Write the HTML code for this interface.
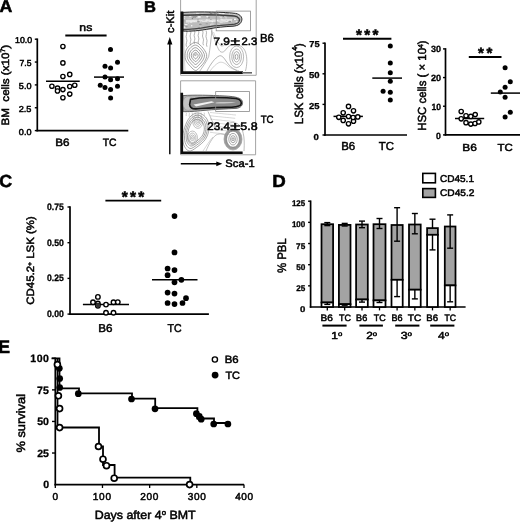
<!DOCTYPE html>
<html><head><meta charset="utf-8"><style>
html,body{margin:0;padding:0;background:#fff;width:520px;height:522px;overflow:hidden}
svg{display:block;filter:blur(0.4px)}
text{font-family:"Liberation Sans", sans-serif;fill:#000;text-rendering:geometricPrecision}
text.r{stroke:#000;stroke-width:0.5px}
text.b{stroke:#000;stroke-width:0.3px}
text.p{stroke:#000;stroke-width:0.55px}
</style></head><body>
<svg width="520" height="522" viewBox="0 0 520 522">
<defs><filter id="bl" x="-5%" y="-5%" width="110%" height="110%"><feGaussianBlur stdDeviation="0.35"/></filter></defs>
<text x="-0.48" y="12.35" font-size="17.01" font-weight="bold" class="p" textLength="12.8" lengthAdjust="spacingAndGlyphs">A</text>
<line x1="37.3" y1="38.45" x2="37.3" y2="131.35" stroke="#000" stroke-width="1.7"/>
<line x1="34.8" y1="39.2" x2="37.3" y2="39.2" stroke="#000" stroke-width="1.4"/>
<line x1="34.8" y1="62.05" x2="37.3" y2="62.05" stroke="#000" stroke-width="1.4"/>
<line x1="34.8" y1="84.9" x2="37.3" y2="84.9" stroke="#000" stroke-width="1.4"/>
<line x1="34.8" y1="107.75" x2="37.3" y2="107.75" stroke="#000" stroke-width="1.4"/>
<line x1="34.8" y1="130.6" x2="37.3" y2="130.6" stroke="#000" stroke-width="1.4"/>
<line x1="36.449999999999996" y1="130.6" x2="128.3" y2="130.6" stroke="#000" stroke-width="1.7"/>
<text x="15.0" y="43.35" font-size="8.5" class="r" textLength="17.12" lengthAdjust="spacingAndGlyphs">10.0</text>
<text x="19.47" y="65.8" font-size="8.71" class="r" textLength="11.98" lengthAdjust="spacingAndGlyphs">7.5</text>
<text x="18.84" y="89.2" font-size="8.57" class="r" textLength="12.63" lengthAdjust="spacingAndGlyphs">5.0</text>
<text x="18.74" y="111.8" font-size="8.57" class="r" textLength="12.73" lengthAdjust="spacingAndGlyphs">2.5</text>
<text x="18.84" y="134.5" font-size="8.57" class="r" textLength="12.63" lengthAdjust="spacingAndGlyphs">0.0</text>
<text x="79.35" y="31.45" font-size="10.84" class="r" textLength="12.9" lengthAdjust="spacingAndGlyphs">ns</text>
<text x="55.22" y="145.75" font-size="10.61" class="r" textLength="14.23" lengthAdjust="spacingAndGlyphs">B6</text>
<text x="102.84" y="145.75" font-size="10.61" class="r" textLength="13.75" lengthAdjust="spacingAndGlyphs">TC</text>
<text transform="translate(8.85 125.58) rotate(-90)" font-size="10.68" class="r" textLength="80.8" lengthAdjust="spacingAndGlyphs">BM&#160; cells (x10<tspan font-size="0.6em" dy="-0.65em">7</tspan><tspan dy="0.39em">)</tspan></text>
<line x1="65.3" y1="35.4" x2="106.6" y2="35.4" stroke="#000" stroke-width="2.0"/>
<line x1="46" y1="81.25" x2="79.75" y2="81.25" stroke="#000" stroke-width="1.5"/>
<circle cx="62.9" cy="46.5" r="2.15" fill="#fff" stroke="#000" stroke-width="1.35"/>
<circle cx="62.9" cy="62.9" r="2.15" fill="#fff" stroke="#000" stroke-width="1.35"/>
<circle cx="62.9" cy="76.5" r="2.15" fill="#fff" stroke="#000" stroke-width="1.35"/>
<circle cx="69.75" cy="74.4" r="2.15" fill="#fff" stroke="#000" stroke-width="1.35"/>
<circle cx="51.9" cy="86.25" r="2.15" fill="#fff" stroke="#000" stroke-width="1.35"/>
<circle cx="57.5" cy="88.1" r="2.15" fill="#fff" stroke="#000" stroke-width="1.35"/>
<circle cx="57.5" cy="91" r="2.15" fill="#fff" stroke="#000" stroke-width="1.35"/>
<circle cx="62.9" cy="89.6" r="2.15" fill="#fff" stroke="#000" stroke-width="1.35"/>
<circle cx="69.75" cy="86.5" r="2.15" fill="#fff" stroke="#000" stroke-width="1.35"/>
<circle cx="74.75" cy="85.25" r="2.15" fill="#fff" stroke="#000" stroke-width="1.35"/>
<circle cx="69.75" cy="94.1" r="2.15" fill="#fff" stroke="#000" stroke-width="1.35"/>
<circle cx="62.9" cy="97.75" r="2.15" fill="#fff" stroke="#000" stroke-width="1.35"/>
<circle cx="110.5" cy="49.4" r="2.5" fill="#000"/>
<circle cx="117.5" cy="62.25" r="2.5" fill="#000"/>
<circle cx="105" cy="66.25" r="2.5" fill="#000"/>
<circle cx="110.6" cy="68.1" r="2.5" fill="#000"/>
<circle cx="105" cy="77.1" r="2.5" fill="#000"/>
<circle cx="110.6" cy="79.75" r="2.5" fill="#000"/>
<circle cx="117.5" cy="78.75" r="2.5" fill="#000"/>
<circle cx="100.25" cy="85.25" r="2.5" fill="#000"/>
<circle cx="105" cy="87.5" r="2.5" fill="#000"/>
<circle cx="110.6" cy="89.6" r="2.5" fill="#000"/>
<circle cx="117.5" cy="86.25" r="2.5" fill="#000"/>
<circle cx="110.6" cy="98.1" r="2.5" fill="#000"/>
<line x1="94" y1="77.1" x2="124" y2="77.1" stroke="#000" stroke-width="1.5"/>
<line x1="325.0" y1="42.45" x2="325.0" y2="135.75" stroke="#000" stroke-width="1.7"/>
<line x1="322.5" y1="43.2" x2="325.0" y2="43.2" stroke="#000" stroke-width="1.4"/>
<line x1="322.5" y1="73.8" x2="325.0" y2="73.8" stroke="#000" stroke-width="1.4"/>
<line x1="322.5" y1="104.4" x2="325.0" y2="104.4" stroke="#000" stroke-width="1.4"/>
<line x1="322.5" y1="135.0" x2="325.0" y2="135.0" stroke="#000" stroke-width="1.4"/>
<line x1="324.15" y1="135.0" x2="407.0" y2="135.0" stroke="#000" stroke-width="1.7"/>
<text x="309.23" y="47.4" font-size="8.57" font-weight="bold" class="b" textLength="10.37" lengthAdjust="spacingAndGlyphs">75</text>
<text x="308.91" y="78.4" font-size="8.57" font-weight="bold" class="b" textLength="10.59" lengthAdjust="spacingAndGlyphs">50</text>
<text x="309.12" y="109.3" font-size="8.57" font-weight="bold" class="b" textLength="10.49" lengthAdjust="spacingAndGlyphs">25</text>
<text x="313.42" y="140.2" font-size="8.57" font-weight="bold" class="b" textLength="5.33" lengthAdjust="spacingAndGlyphs">0</text>
<text x="341.23" y="150.25" font-size="11.63" class="r" textLength="14.01" lengthAdjust="spacingAndGlyphs">B6</text>
<text x="378.82" y="150.25" font-size="11.63" class="r" textLength="15.22" lengthAdjust="spacingAndGlyphs">TC</text>
<text transform="translate(302.55 124.27) rotate(-90)" font-size="11.92" class="r" textLength="81.19" lengthAdjust="spacingAndGlyphs">LSK cells (x10<tspan font-size="0.6em" dy="-0.72em">4</tspan><tspan dy="0.432em">)</tspan></text>
<text x="355.94" y="40.36" font-size="15.2" font-weight="bold" class="p">*</text>
<text x="364.24" y="40.36" font-size="15.2" font-weight="bold" class="p">*</text>
<text x="372.44" y="40.36" font-size="15.2" font-weight="bold" class="p">*</text>
<line x1="343.0" y1="38.8" x2="391.4" y2="38.8" stroke="#000" stroke-width="2.0"/>
<line x1="333.5" y1="116.4" x2="362.9" y2="116.4" stroke="#000" stroke-width="1.5"/>
<circle cx="348.5" cy="106.4" r="2.15" fill="#fff" stroke="#000" stroke-width="1.35"/>
<circle cx="353.5" cy="110.8" r="2.15" fill="#fff" stroke="#000" stroke-width="1.35"/>
<circle cx="343.2" cy="112.8" r="2.15" fill="#fff" stroke="#000" stroke-width="1.35"/>
<circle cx="338.8" cy="117.3" r="2.15" fill="#fff" stroke="#000" stroke-width="1.35"/>
<circle cx="343.2" cy="120.4" r="2.15" fill="#fff" stroke="#000" stroke-width="1.35"/>
<circle cx="348.5" cy="123.8" r="2.15" fill="#fff" stroke="#000" stroke-width="1.35"/>
<circle cx="353.5" cy="121.2" r="2.15" fill="#fff" stroke="#000" stroke-width="1.35"/>
<circle cx="348.5" cy="116.5" r="2.15" fill="#fff" stroke="#000" stroke-width="1.35"/>
<circle cx="353.1" cy="117.5" r="2.15" fill="#fff" stroke="#000" stroke-width="1.35"/>
<circle cx="357.8" cy="116.9" r="2.15" fill="#fff" stroke="#000" stroke-width="1.35"/>
<circle cx="390.3" cy="46.1" r="2.5" fill="#000"/>
<circle cx="390.3" cy="63" r="2.5" fill="#000"/>
<circle cx="390.3" cy="72.8" r="2.5" fill="#000"/>
<circle cx="390.3" cy="81.2" r="2.5" fill="#000"/>
<circle cx="390.3" cy="92.2" r="2.5" fill="#000"/>
<circle cx="390.3" cy="100.1" r="2.5" fill="#000"/>
<circle cx="383.1" cy="91.2" r="2.5" fill="#000"/>
<line x1="372.3" y1="78.1" x2="402" y2="78.1" stroke="#000" stroke-width="1.5"/>
<line x1="445.5" y1="48.15" x2="445.5" y2="135.65" stroke="#000" stroke-width="1.7"/>
<line x1="443.0" y1="48.9" x2="445.5" y2="48.9" stroke="#000" stroke-width="1.4"/>
<line x1="443.0" y1="77.56666666666666" x2="445.5" y2="77.56666666666666" stroke="#000" stroke-width="1.4"/>
<line x1="443.0" y1="106.23333333333333" x2="445.5" y2="106.23333333333333" stroke="#000" stroke-width="1.4"/>
<line x1="443.0" y1="134.9" x2="445.5" y2="134.9" stroke="#000" stroke-width="1.4"/>
<line x1="444.65" y1="134.9" x2="520" y2="134.9" stroke="#000" stroke-width="1.7"/>
<text x="431.02" y="52.4" font-size="9.0" font-weight="bold" class="b" textLength="10.06" lengthAdjust="spacingAndGlyphs">30</text>
<text x="430.93" y="81.1" font-size="9.0" font-weight="bold" class="b" textLength="10.16" lengthAdjust="spacingAndGlyphs">20</text>
<text x="431.48" y="109.8" font-size="9.0" font-weight="bold" class="b" textLength="9.58" lengthAdjust="spacingAndGlyphs">10</text>
<text x="436.05" y="138.5" font-size="9.0" font-weight="bold" class="b" textLength="4.87" lengthAdjust="spacingAndGlyphs">0</text>
<text x="462.3" y="150.65" font-size="10.32" class="r" textLength="14.57" lengthAdjust="spacingAndGlyphs">B6</text>
<text x="497.62" y="150.65" font-size="10.32" class="r" textLength="15.22" lengthAdjust="spacingAndGlyphs">TC</text>
<text transform="translate(426.4 130.76) rotate(-90)" font-size="11.7" class="r" textLength="90.39" lengthAdjust="spacingAndGlyphs">HSC cells ( &#215; 10<tspan font-size="0.6em" dy="-0.42em">4</tspan><tspan dy="0.252em">)</tspan></text>
<text x="478.02" y="58.22" font-size="15" font-weight="bold" class="p">*</text>
<text x="486.43" y="58.22" font-size="15" font-weight="bold" class="p">*</text>
<line x1="468.8" y1="57.0" x2="501.5" y2="57.0" stroke="#000" stroke-width="2.0"/>
<line x1="455" y1="118.5" x2="484.2" y2="118.5" stroke="#000" stroke-width="1.5"/>
<circle cx="461.2" cy="111.5" r="2.15" fill="#fff" stroke="#000" stroke-width="1.35"/>
<circle cx="466" cy="115.8" r="2.15" fill="#fff" stroke="#000" stroke-width="1.35"/>
<circle cx="470.8" cy="116.4" r="2.15" fill="#fff" stroke="#000" stroke-width="1.35"/>
<circle cx="475.2" cy="114.6" r="2.15" fill="#fff" stroke="#000" stroke-width="1.35"/>
<circle cx="461.2" cy="118.8" r="2.15" fill="#fff" stroke="#000" stroke-width="1.35"/>
<circle cx="466" cy="122.7" r="2.15" fill="#fff" stroke="#000" stroke-width="1.35"/>
<circle cx="470.8" cy="124.1" r="2.15" fill="#fff" stroke="#000" stroke-width="1.35"/>
<circle cx="475" cy="123.5" r="2.15" fill="#fff" stroke="#000" stroke-width="1.35"/>
<circle cx="478.8" cy="121.9" r="2.15" fill="#fff" stroke="#000" stroke-width="1.35"/>
<circle cx="505.1" cy="67.7" r="2.5" fill="#000"/>
<circle cx="510.3" cy="81.8" r="2.5" fill="#000"/>
<circle cx="505.1" cy="87.2" r="2.5" fill="#000"/>
<circle cx="500.3" cy="92" r="2.5" fill="#000"/>
<circle cx="505.1" cy="97.2" r="2.5" fill="#000"/>
<circle cx="510.3" cy="112.3" r="2.5" fill="#000"/>
<circle cx="505.1" cy="116.9" r="2.5" fill="#000"/>
<line x1="490.8" y1="93.1" x2="520" y2="93.1" stroke="#000" stroke-width="1.5"/>
<text x="143.99" y="12.35" font-size="15.7" font-weight="bold" class="p" textLength="11.96" lengthAdjust="spacingAndGlyphs">B</text>
<line x1="169.8" y1="44" x2="169.8" y2="154.2" stroke="#000" stroke-width="1.4"/>
<path d="M169.8,37.1 L172.4,44.6 L167.2,44.6 Z" fill="#000"/>
<text transform="translate(173.65 32.9) rotate(-90)" font-size="10.9" class="r" textLength="22.26" lengthAdjust="spacingAndGlyphs">c-Kit</text>
<line x1="180.8" y1="163.8" x2="217" y2="163.8" stroke="#000" stroke-width="1.4"/>
<path d="M222.3,163.8 L216.3,161.4 L216.3,166.2 Z" fill="#000"/>
<text x="225.39" y="167.35" font-size="10.76" class="r" textLength="29.25" lengthAdjust="spacingAndGlyphs">Sca-1</text>
<path d="M180.6,0 V75.3 H256.2 V0" fill="none" stroke="#999" stroke-width="0.9"/>
<path d="M180.6,80.8 H255.6 V154.8 H180.6 Z" fill="none" stroke="#999" stroke-width="0.9"/>
<g filter="url(#bl)">
<path d="M186.50,30.50 Q187.30,32.53 186.50,34.56 Q185.70,36.59 186.50,38.62 Q187.30,40.66 186.50,42.69 Q185.70,44.72 186.50,46.75 " fill="none" stroke="#8a8a8a" stroke-width="0.65"/>
<path d="M190.50,30.50 Q191.30,32.34 190.50,34.19 Q189.70,36.03 190.50,37.88 Q191.30,39.72 190.50,41.56 Q189.70,43.41 190.50,45.25 " fill="none" stroke="#8a8a8a" stroke-width="0.65"/>
<path d="M194.50,30.50 Q195.30,32.16 194.50,33.81 Q193.70,35.47 194.50,37.12 Q195.30,38.78 194.50,40.44 Q193.70,42.09 194.50,43.75 " fill="none" stroke="#8a8a8a" stroke-width="0.65"/>
<path d="M198.50,30.50 Q199.30,32.16 198.50,33.81 Q197.70,35.47 198.50,37.12 Q199.30,38.78 198.50,40.44 Q197.70,42.09 198.50,43.75 " fill="none" stroke="#8a8a8a" stroke-width="0.65"/>
<path d="M202.50,30.50 Q203.43,32.34 202.75,34.19 Q202.07,36.03 203.00,37.88 Q203.93,39.72 203.25,41.56 Q202.57,43.41 203.50,45.25 " fill="none" stroke="#8a8a8a" stroke-width="0.65"/>
<path d="M206.00,30.50 Q206.93,32.53 206.25,34.56 Q205.57,36.59 206.50,38.62 Q207.43,40.66 206.75,42.69 Q206.07,44.72 207.00,46.75 " fill="none" stroke="#8a8a8a" stroke-width="0.65"/>
<path d="M195.60,42.50 C197.60,42.67 199.77,44.50 201.60,46.50 C203.43,48.50 206.10,52.00 206.60,54.50 C207.10,57.00 205.77,59.33 204.60,61.50 C203.43,63.67 201.10,66.00 199.60,67.50 C198.10,69.00 197.10,70.67 195.60,70.50 C194.10,70.33 192.27,68.33 190.60,66.50 C188.93,64.67 186.43,62.00 185.60,59.50 C184.77,57.00 184.93,53.83 185.60,51.50 C186.27,49.17 187.93,47.00 189.60,45.50 C191.27,44.00 193.60,42.33 195.60,42.50 Z" fill="none" stroke="#7c7c7c" stroke-width="0.7"/>
<path d="M195.60,45.10 C197.20,45.23 198.93,46.70 200.40,48.30 C201.87,49.90 204.00,52.70 204.40,54.70 C204.80,56.70 203.73,58.57 202.80,60.30 C201.87,62.03 200.00,63.90 198.80,65.10 C197.60,66.30 196.80,67.63 195.60,67.50 C194.40,67.37 192.93,65.77 191.60,64.30 C190.27,62.83 188.27,60.70 187.60,58.70 C186.93,56.70 187.07,54.17 187.60,52.30 C188.13,50.43 189.47,48.70 190.80,47.50 C192.13,46.30 194.00,44.97 195.60,45.10 Z" fill="none" stroke="#7c7c7c" stroke-width="0.7"/>
<path d="M195.60,47.70 C196.80,47.80 198.10,48.90 199.20,50.10 C200.30,51.30 201.90,53.40 202.20,54.90 C202.50,56.40 201.70,57.80 201.00,59.10 C200.30,60.40 198.90,61.80 198.00,62.70 C197.10,63.60 196.50,64.60 195.60,64.50 C194.70,64.40 193.60,63.20 192.60,62.10 C191.60,61.00 190.10,59.40 189.60,57.90 C189.10,56.40 189.20,54.50 189.60,53.10 C190.00,51.70 191.00,50.40 192.00,49.50 C193.00,48.60 194.40,47.60 195.60,47.70 Z" fill="none" stroke="#707070" stroke-width="0.7"/>
<path d="M195.60,50.17 C196.42,50.24 197.31,50.99 198.06,51.81 C198.81,52.63 199.90,54.07 200.11,55.09 C200.31,56.12 199.77,57.07 199.29,57.96 C198.81,58.85 197.85,59.80 197.24,60.42 C196.62,61.04 196.22,61.72 195.60,61.65 C194.98,61.58 194.23,60.76 193.55,60.01 C192.87,59.26 191.84,58.16 191.50,57.14 C191.16,56.12 191.23,54.82 191.50,53.86 C191.77,52.90 192.46,52.02 193.14,51.40 C193.82,50.78 194.78,50.10 195.60,50.17 Z" fill="none" stroke="#707070" stroke-width="0.7"/>
<path d="M195.60,52.51 C196.06,52.55 196.56,52.97 196.98,53.43 C197.40,53.89 198.01,54.70 198.13,55.27 C198.25,55.85 197.94,56.38 197.67,56.88 C197.40,57.38 196.86,57.91 196.52,58.26 C196.17,58.60 195.94,58.99 195.60,58.95 C195.25,58.91 194.83,58.45 194.45,58.03 C194.07,57.61 193.49,57.00 193.30,56.42 C193.11,55.84 193.15,55.12 193.30,54.58 C193.45,54.04 193.84,53.55 194.22,53.20 C194.60,52.86 195.14,52.47 195.60,52.51 Z" fill="none" stroke="#707070" stroke-width="0.7"/>
<circle cx="195.4" cy="54.8" r="0.9" fill="none" stroke="#777" stroke-width="0.6"/>
<path d="M184.5,29.6 C195,29 205,28.6 212,29.2 C211,40 210,49 208.7,56.6 C206,62.5 202.5,67 199.5,71.5" fill="none" stroke="#8a8a8a" stroke-width="0.6"/>
<path d="M183.5,31.5 C184,45 184.5,60 185,71" fill="none" stroke="#aaa" stroke-width="0.5"/>
<path d="M211.5,30.5 C214,38 216.5,46 219.3,50.5 C221,52.8 223.5,52.8 225.5,50 C227.5,47 230,45 233.5,44.5 C238.5,44 243.5,46.5 245.5,52 C247.5,58 247,65 245.5,71" fill="none" stroke="#8e8e8e" stroke-width="0.6"/>
<path d="M207,71 C210,65 215,57.5 219.5,55.8 C222,55.2 224,58 226,61 C229,65.5 232,68.5 237,70.6" fill="none" stroke="#858585" stroke-width="0.6"/>
<path d="M213.5,32 C216,39 218.5,44.5 221,46 C223.5,46.8 226.5,43.5 230,41.5" fill="none" stroke="#b0b0b0" stroke-width="0.5"/>
<path d="M210,71 C213,67 216,64 219,62.5 C222,61.5 225,63 228,66 C231,68.6 235,70 239,70.8" fill="none" stroke="#a5a5a5" stroke-width="0.5"/>
<ellipse cx="236.6" cy="56.8" rx="7.0" ry="10.8" fill="none" stroke="#8a8a8a" stroke-width="0.6"/>
<ellipse cx="236.6" cy="56.8" rx="4.8" ry="7.8" fill="none" stroke="#7e7e7e" stroke-width="0.6"/>
<ellipse cx="236.6" cy="56.8" rx="3.0" ry="5.2" fill="none" stroke="#727272" stroke-width="0.6"/>
<ellipse cx="236.6" cy="56.8" rx="1.4" ry="2.6" fill="none" stroke="#6a6a6a" stroke-width="0.6"/>
<clipPath id="cu1"><path d="M183,12.4 C200,11.4 225,12.1 235.6,13.4 C240.6,14.4 242.4,17.6 241.8,20.2 C241.2,23.4 238.5,25.8 233,26.2 C225,26.6 216,27.4 210,28.7 C200,30.7 190,31.5 183,31.1 Z"/></clipPath>
<path d="M183,12.4 C200,11.4 225,12.1 235.6,13.4 C240.6,14.4 242.4,17.6 241.8,20.2 C241.2,23.4 238.5,25.8 233,26.2 C225,26.6 216,27.4 210,28.7 C200,30.7 190,31.5 183,31.1 Z" fill="#bcbcbc" stroke="none" stroke-width="0"/>
<g clip-path="url(#cu1)">
<path d="M186,21.4 C198,20.5 214,20.6 232,20.4" fill="none" stroke="#e4e4e4" stroke-width="2.6"/>
<ellipse cx="201.8" cy="14.9" rx="0.66" ry="0.81" fill="#f6f6f6"/>
<ellipse cx="188.5" cy="23.1" rx="0.86" ry="0.44" fill="#eeeeee"/>
<ellipse cx="207.3" cy="16.6" rx="1.11" ry="0.81" fill="#eeeeee"/>
<ellipse cx="190.2" cy="16.2" rx="1.30" ry="0.43" fill="#f6f6f6"/>
<ellipse cx="217.0" cy="12.9" rx="0.66" ry="0.83" fill="#9a9a9a"/>
<ellipse cx="199.8" cy="14.7" rx="1.29" ry="0.68" fill="#858585"/>
<ellipse cx="222.6" cy="14.0" rx="1.37" ry="0.59" fill="#eeeeee"/>
<ellipse cx="214.8" cy="13.2" rx="1.34" ry="0.65" fill="#858585"/>
<ellipse cx="213.8" cy="26.8" rx="1.30" ry="0.63" fill="#dcdcdc"/>
<ellipse cx="200.4" cy="27.1" rx="1.54" ry="0.44" fill="#f6f6f6"/>
<ellipse cx="200.4" cy="21.4" rx="1.48" ry="0.54" fill="#c8c8c8"/>
<ellipse cx="239.9" cy="14.2" rx="0.80" ry="0.57" fill="#dcdcdc"/>
<ellipse cx="237.1" cy="20.0" rx="0.69" ry="0.68" fill="#f6f6f6"/>
<ellipse cx="228.8" cy="27.5" rx="1.43" ry="0.70" fill="#c8c8c8"/>
<ellipse cx="216.6" cy="20.7" rx="0.71" ry="0.53" fill="#b0b0b0"/>
<ellipse cx="223.4" cy="13.2" rx="1.44" ry="0.72" fill="#f6f6f6"/>
<ellipse cx="240.6" cy="27.6" rx="1.46" ry="0.84" fill="#c8c8c8"/>
<ellipse cx="203.1" cy="29.9" rx="0.80" ry="0.46" fill="#c8c8c8"/>
<ellipse cx="186.4" cy="26.6" rx="1.49" ry="0.60" fill="#9a9a9a"/>
<ellipse cx="236.2" cy="21.4" rx="1.14" ry="0.67" fill="#9a9a9a"/>
<ellipse cx="234.2" cy="27.6" rx="1.26" ry="0.75" fill="#b0b0b0"/>
<ellipse cx="240.2" cy="25.0" rx="1.75" ry="0.48" fill="#dcdcdc"/>
<ellipse cx="193.2" cy="16.4" rx="0.61" ry="0.82" fill="#9a9a9a"/>
<ellipse cx="193.6" cy="17.4" rx="1.10" ry="0.58" fill="#9a9a9a"/>
<ellipse cx="215.8" cy="30.1" rx="1.63" ry="0.88" fill="#f6f6f6"/>
<ellipse cx="221.0" cy="26.1" rx="1.68" ry="0.79" fill="#dcdcdc"/>
<ellipse cx="233.7" cy="27.2" rx="1.08" ry="0.60" fill="#dcdcdc"/>
<ellipse cx="210.9" cy="19.6" rx="0.68" ry="0.50" fill="#9a9a9a"/>
<ellipse cx="192.4" cy="18.5" rx="0.72" ry="0.68" fill="#858585"/>
<ellipse cx="214.1" cy="30.0" rx="0.63" ry="0.84" fill="#eeeeee"/>
<ellipse cx="218.6" cy="14.8" rx="1.75" ry="0.70" fill="#c8c8c8"/>
<ellipse cx="210.5" cy="14.2" rx="1.79" ry="0.63" fill="#dcdcdc"/>
<ellipse cx="211.1" cy="13.6" rx="1.50" ry="0.77" fill="#858585"/>
<ellipse cx="210.8" cy="25.1" rx="0.63" ry="0.88" fill="#eeeeee"/>
<ellipse cx="213.6" cy="14.8" rx="1.70" ry="0.78" fill="#eeeeee"/>
<ellipse cx="200.3" cy="24.2" rx="1.44" ry="0.53" fill="#858585"/>
<ellipse cx="204.3" cy="15.2" rx="0.87" ry="0.67" fill="#b0b0b0"/>
<ellipse cx="212.2" cy="24.1" rx="1.57" ry="0.89" fill="#eeeeee"/>
<ellipse cx="232.5" cy="27.3" rx="1.08" ry="0.80" fill="#b0b0b0"/>
<ellipse cx="194.6" cy="21.4" rx="0.63" ry="0.41" fill="#f6f6f6"/>
<ellipse cx="199.2" cy="16.9" rx="1.33" ry="0.57" fill="#f6f6f6"/>
<ellipse cx="229.9" cy="25.7" rx="1.75" ry="0.58" fill="#c8c8c8"/>
<ellipse cx="195.8" cy="16.3" rx="1.01" ry="0.64" fill="#9a9a9a"/>
<ellipse cx="240.1" cy="23.6" rx="1.18" ry="0.73" fill="#858585"/>
<ellipse cx="229.4" cy="13.6" rx="0.74" ry="0.59" fill="#f6f6f6"/>
<ellipse cx="224.3" cy="15.8" rx="1.12" ry="0.72" fill="#9a9a9a"/>
<ellipse cx="188.0" cy="30.0" rx="1.08" ry="0.60" fill="#f6f6f6"/>
<ellipse cx="237.9" cy="25.8" rx="1.79" ry="0.41" fill="#9a9a9a"/>
<ellipse cx="217.3" cy="20.8" rx="0.78" ry="0.81" fill="#f6f6f6"/>
<ellipse cx="239.9" cy="24.5" rx="0.79" ry="0.67" fill="#c8c8c8"/>
<ellipse cx="184.2" cy="27.2" rx="1.38" ry="0.66" fill="#f6f6f6"/>
<ellipse cx="237.2" cy="20.2" rx="0.83" ry="0.84" fill="#b0b0b0"/>
<ellipse cx="184.6" cy="16.0" rx="0.89" ry="0.69" fill="#eeeeee"/>
<ellipse cx="198.0" cy="20.0" rx="0.67" ry="0.77" fill="#9a9a9a"/>
<ellipse cx="235.1" cy="24.6" rx="1.69" ry="0.61" fill="#b0b0b0"/>
<ellipse cx="236.2" cy="21.5" rx="0.78" ry="0.66" fill="#eeeeee"/>
<ellipse cx="233.6" cy="26.8" rx="0.60" ry="0.80" fill="#eeeeee"/>
<ellipse cx="193.0" cy="21.0" rx="0.74" ry="0.43" fill="#f6f6f6"/>
<ellipse cx="222.6" cy="22.1" rx="1.54" ry="0.45" fill="#dcdcdc"/>
<ellipse cx="215.5" cy="16.7" rx="0.65" ry="0.45" fill="#c8c8c8"/>
<ellipse cx="209.2" cy="12.5" rx="1.13" ry="0.71" fill="#858585"/>
<ellipse cx="212.3" cy="21.7" rx="0.93" ry="0.65" fill="#f6f6f6"/>
<ellipse cx="229.8" cy="21.6" rx="1.44" ry="0.84" fill="#9a9a9a"/>
<ellipse cx="237.6" cy="16.9" rx="1.67" ry="0.50" fill="#eeeeee"/>
<ellipse cx="209.0" cy="19.9" rx="1.13" ry="0.44" fill="#dcdcdc"/>
<ellipse cx="197.0" cy="13.4" rx="0.96" ry="0.46" fill="#f6f6f6"/>
<ellipse cx="228.1" cy="29.9" rx="1.39" ry="0.47" fill="#f6f6f6"/>
<ellipse cx="234.2" cy="30.4" rx="1.50" ry="0.45" fill="#9a9a9a"/>
<ellipse cx="234.3" cy="15.1" rx="1.60" ry="0.48" fill="#f6f6f6"/>
<ellipse cx="208.0" cy="21.8" rx="1.11" ry="0.58" fill="#c8c8c8"/>
<ellipse cx="188.3" cy="19.0" rx="1.26" ry="0.62" fill="#c8c8c8"/>
<ellipse cx="184.0" cy="18.3" rx="0.95" ry="0.88" fill="#eeeeee"/>
<ellipse cx="189.5" cy="29.5" rx="1.77" ry="0.45" fill="#9a9a9a"/>
<ellipse cx="198.4" cy="12.8" rx="0.82" ry="0.78" fill="#b0b0b0"/>
<ellipse cx="230.5" cy="28.1" rx="1.58" ry="0.53" fill="#f6f6f6"/>
<ellipse cx="191.7" cy="29.5" rx="1.19" ry="0.56" fill="#eeeeee"/>
<ellipse cx="199.2" cy="27.2" rx="1.11" ry="0.44" fill="#9a9a9a"/>
<ellipse cx="237.4" cy="24.1" rx="0.91" ry="0.70" fill="#b0b0b0"/>
<ellipse cx="195.9" cy="17.0" rx="1.14" ry="0.57" fill="#858585"/>
<ellipse cx="215.1" cy="29.6" rx="1.35" ry="0.42" fill="#c8c8c8"/>
<ellipse cx="224.2" cy="29.8" rx="0.91" ry="0.49" fill="#9a9a9a"/>
<ellipse cx="237.1" cy="23.9" rx="1.51" ry="0.54" fill="#eeeeee"/>
<ellipse cx="212.0" cy="15.4" rx="1.56" ry="0.90" fill="#c8c8c8"/>
<ellipse cx="185.1" cy="12.4" rx="1.26" ry="0.49" fill="#eeeeee"/>
<ellipse cx="210.5" cy="29.8" rx="1.39" ry="0.73" fill="#858585"/>
<ellipse cx="221.1" cy="22.4" rx="1.76" ry="0.55" fill="#dcdcdc"/>
<ellipse cx="195.5" cy="16.4" rx="1.60" ry="0.75" fill="#9a9a9a"/>
<ellipse cx="219.9" cy="19.7" rx="1.78" ry="0.82" fill="#c8c8c8"/>
<ellipse cx="183.8" cy="23.9" rx="1.12" ry="0.43" fill="#c8c8c8"/>
<ellipse cx="221.6" cy="19.2" rx="1.40" ry="0.54" fill="#eeeeee"/>
<ellipse cx="197.0" cy="17.6" rx="0.82" ry="0.53" fill="#dcdcdc"/>
<ellipse cx="183.2" cy="18.9" rx="1.77" ry="0.67" fill="#c8c8c8"/>
<ellipse cx="197.2" cy="30.3" rx="0.86" ry="0.49" fill="#c8c8c8"/>
<ellipse cx="202.4" cy="13.6" rx="1.20" ry="0.50" fill="#c8c8c8"/>
<ellipse cx="212.3" cy="12.1" rx="1.58" ry="0.47" fill="#c8c8c8"/>
<ellipse cx="217.0" cy="19.5" rx="0.97" ry="0.52" fill="#c8c8c8"/>
<ellipse cx="217.0" cy="22.1" rx="0.79" ry="0.85" fill="#b0b0b0"/>
<ellipse cx="228.5" cy="23.3" rx="0.99" ry="0.89" fill="#b0b0b0"/>
<ellipse cx="191.7" cy="25.8" rx="0.77" ry="0.81" fill="#f6f6f6"/>
<ellipse cx="224.5" cy="21.7" rx="1.48" ry="0.81" fill="#dcdcdc"/>
<ellipse cx="191.1" cy="22.0" rx="1.28" ry="0.81" fill="#eeeeee"/>
<ellipse cx="183.9" cy="25.0" rx="1.67" ry="0.74" fill="#b0b0b0"/>
<ellipse cx="223.2" cy="16.4" rx="0.65" ry="0.72" fill="#858585"/>
<ellipse cx="238.7" cy="19.2" rx="1.27" ry="0.71" fill="#dcdcdc"/>
<ellipse cx="219.3" cy="24.9" rx="0.92" ry="0.63" fill="#dcdcdc"/>
<ellipse cx="187.1" cy="29.7" rx="0.71" ry="0.66" fill="#eeeeee"/>
<ellipse cx="226.3" cy="21.0" rx="0.69" ry="0.53" fill="#b0b0b0"/>
<ellipse cx="225.3" cy="15.9" rx="1.38" ry="0.63" fill="#f6f6f6"/>
<ellipse cx="232.0" cy="13.5" rx="0.94" ry="0.42" fill="#f6f6f6"/>
<ellipse cx="219.7" cy="15.8" rx="0.78" ry="0.53" fill="#eeeeee"/>
<ellipse cx="226.1" cy="17.8" rx="0.76" ry="0.64" fill="#eeeeee"/>
<ellipse cx="211.2" cy="30.5" rx="1.43" ry="0.74" fill="#858585"/>
<ellipse cx="199.9" cy="21.8" rx="1.16" ry="0.78" fill="#dcdcdc"/>
<ellipse cx="240.6" cy="22.4" rx="1.77" ry="0.87" fill="#c8c8c8"/>
<ellipse cx="184.0" cy="20.7" rx="1.21" ry="0.90" fill="#b0b0b0"/>
<ellipse cx="240.7" cy="19.4" rx="0.69" ry="0.45" fill="#9a9a9a"/>
<ellipse cx="226.4" cy="17.0" rx="0.76" ry="0.81" fill="#c8c8c8"/>
<ellipse cx="212.5" cy="28.9" rx="1.04" ry="0.65" fill="#f6f6f6"/>
<ellipse cx="233.8" cy="19.5" rx="0.60" ry="0.65" fill="#9a9a9a"/>
<ellipse cx="209.1" cy="17.7" rx="1.10" ry="0.59" fill="#9a9a9a"/>
<ellipse cx="190.0" cy="18.3" rx="1.50" ry="0.82" fill="#c8c8c8"/>
<ellipse cx="190.0" cy="29.6" rx="0.61" ry="0.77" fill="#f6f6f6"/>
<ellipse cx="197.7" cy="13.2" rx="1.80" ry="0.69" fill="#dcdcdc"/>
<ellipse cx="203.9" cy="20.1" rx="1.63" ry="0.54" fill="#c8c8c8"/>
<ellipse cx="186.0" cy="24.6" rx="1.72" ry="0.52" fill="#f6f6f6"/>
<ellipse cx="198.4" cy="21.7" rx="1.53" ry="0.79" fill="#9a9a9a"/>
<ellipse cx="207.8" cy="12.6" rx="1.36" ry="0.86" fill="#b0b0b0"/>
<ellipse cx="237.6" cy="22.4" rx="0.70" ry="0.87" fill="#f6f6f6"/>
<ellipse cx="206.8" cy="23.7" rx="1.37" ry="0.54" fill="#9a9a9a"/>
<ellipse cx="185.8" cy="29.6" rx="0.80" ry="0.61" fill="#9a9a9a"/>
<ellipse cx="199.3" cy="16.9" rx="1.77" ry="0.53" fill="#f6f6f6"/>
<ellipse cx="221.0" cy="17.7" rx="1.40" ry="0.46" fill="#eeeeee"/>
<ellipse cx="220.3" cy="13.4" rx="1.69" ry="0.65" fill="#eeeeee"/>
<ellipse cx="195.8" cy="29.2" rx="1.14" ry="0.47" fill="#b0b0b0"/>
<ellipse cx="194.2" cy="13.7" rx="1.27" ry="0.56" fill="#c8c8c8"/>
<ellipse cx="204.4" cy="27.4" rx="1.66" ry="0.77" fill="#9a9a9a"/>
<ellipse cx="206.9" cy="19.9" rx="0.85" ry="0.54" fill="#eeeeee"/>
<ellipse cx="226.6" cy="21.5" rx="1.76" ry="0.46" fill="#eeeeee"/>
<ellipse cx="212.2" cy="24.0" rx="1.62" ry="0.45" fill="#b0b0b0"/>
<ellipse cx="235.0" cy="19.3" rx="1.14" ry="0.88" fill="#f6f6f6"/>
<path d="M183,15.2 C200,14.4 222,15.0 234.5,16.0 C239,16.6 240.2,19.6 238.8,21.6" fill="none" stroke="#3a3a3a" stroke-width="1.4"/>
<path d="M183,29.6 C192,29.4 200,28.2 208,26.8 C216,25.4 226,25.2 234.5,24.2 C237,23.6 238.6,22.6 238.8,21.6" fill="none" stroke="#444" stroke-width="1.3"/>
</g>
<path d="M183,12.4 C200,11.4 225,12.1 235.6,13.4 C240.6,14.4 242.4,17.6 241.8,20.2 C241.2,23.4 238.5,25.8 233,26.2 C225,26.6 216,27.4 210,28.7 C200,30.7 190,31.5 183,31.1 Z" fill="none" stroke="#2a2a2a" stroke-width="1.0"/>
<path d="M181.9,11.6 V72.6 H243" fill="none" stroke="#0a0a0a" stroke-width="2.7"/>
<path d="M242,72.8 H252" fill="none" stroke="#666" stroke-width="1.6"/>
<path d="M199.85,113.33 C202.22,114.07 205.42,116.36 206.93,118.98 C208.44,121.60 209.19,125.67 208.93,129.06 C208.67,132.46 207.38,136.33 205.36,139.35 C203.34,142.37 199.51,145.23 196.79,147.19 C194.08,149.14 191.27,151.53 189.07,151.07 C186.87,150.60 184.57,147.35 183.59,144.38 C182.61,141.41 182.62,137.04 183.19,133.26 C183.77,129.47 185.46,124.77 187.04,121.65 C188.62,118.54 190.55,115.96 192.68,114.57 C194.82,113.18 197.47,112.60 199.85,113.33 Z" fill="none" stroke="#808080" stroke-width="0.7"/>
<path d="M199.39,115.50 C201.46,116.14 204.26,118.14 205.58,120.43 C206.90,122.72 207.55,126.28 207.32,129.25 C207.10,132.21 205.97,135.59 204.21,138.23 C202.44,140.87 199.09,143.38 196.72,145.09 C194.35,146.79 191.89,148.89 189.97,148.48 C188.04,148.07 186.03,145.23 185.18,142.63 C184.32,140.04 184.33,136.22 184.83,132.91 C185.33,129.60 186.81,125.49 188.19,122.77 C189.58,120.04 191.26,117.79 193.13,116.58 C194.99,115.37 197.31,114.85 199.39,115.50 Z" fill="none" stroke="#808080" stroke-width="0.7"/>
<path d="M198.96,117.53 C200.75,118.08 203.16,119.81 204.31,121.80 C205.45,123.78 206.01,126.85 205.82,129.42 C205.62,131.98 204.65,134.90 203.12,137.19 C201.59,139.47 198.70,141.63 196.65,143.11 C194.60,144.58 192.47,146.39 190.81,146.04 C189.15,145.69 187.41,143.23 186.67,140.99 C185.93,138.75 185.94,135.44 186.37,132.58 C186.81,129.72 188.08,126.17 189.28,123.81 C190.47,121.46 191.93,119.51 193.54,118.46 C195.16,117.42 197.16,116.97 198.96,117.53 Z" fill="none" stroke="#808080" stroke-width="0.7"/>
<path d="M198.52,119.56 C200.04,120.03 202.07,121.49 203.04,123.16 C204.00,124.83 204.47,127.42 204.31,129.59 C204.14,131.75 203.32,134.21 202.04,136.14 C200.75,138.06 198.31,139.89 196.58,141.13 C194.85,142.38 193.06,143.90 191.66,143.60 C190.25,143.30 188.79,141.23 188.17,139.34 C187.54,137.45 187.55,134.67 187.91,132.26 C188.28,129.84 189.36,126.85 190.36,124.86 C191.37,122.88 192.60,121.24 193.96,120.35 C195.32,119.47 197.01,119.10 198.52,119.56 Z" fill="none" stroke="#808080" stroke-width="0.7"/>
<ellipse cx="197.8" cy="121.6" rx="5.0" ry="6.75" fill="none" stroke="#8a8a8a" stroke-width="0.55"/>
<ellipse cx="197.8" cy="121.6" rx="3.5" ry="4.7250000000000005" fill="none" stroke="#8a8a8a" stroke-width="0.55"/>
<ellipse cx="197.8" cy="121.6" rx="2.1" ry="2.8350000000000004" fill="none" stroke="#8a8a8a" stroke-width="0.55"/>
<ellipse cx="197.8" cy="121.6" rx="0.9" ry="1.215" fill="none" stroke="#8a8a8a" stroke-width="0.55"/>
<ellipse cx="192.4" cy="137.8" rx="5.0" ry="6.75" fill="none" stroke="#8a8a8a" stroke-width="0.55"/>
<ellipse cx="192.4" cy="137.8" rx="3.5" ry="4.7250000000000005" fill="none" stroke="#8a8a8a" stroke-width="0.55"/>
<ellipse cx="192.4" cy="137.8" rx="2.1" ry="2.8350000000000004" fill="none" stroke="#8a8a8a" stroke-width="0.55"/>
<ellipse cx="192.4" cy="137.8" rx="0.9" ry="1.215" fill="none" stroke="#8a8a8a" stroke-width="0.55"/>
<path d="M186.00,112.50 Q186.72,113.38 186.25,114.25 Q185.78,115.12 186.50,116.00 " fill="none" stroke="#a0a0a0" stroke-width="0.5"/>
<path d="M189.00,112.50 Q189.72,113.62 189.25,114.75 Q188.78,115.88 189.50,117.00 " fill="none" stroke="#a0a0a0" stroke-width="0.5"/>
<path d="M192.00,112.50 Q192.72,113.88 192.25,115.25 Q191.78,116.62 192.50,118.00 " fill="none" stroke="#a0a0a0" stroke-width="0.5"/>
<path d="M195.00,112.50 Q195.72,113.38 195.25,114.25 Q194.78,115.12 195.50,116.00 " fill="none" stroke="#a0a0a0" stroke-width="0.5"/>
<path d="M198.00,112.50 Q198.72,113.62 198.25,114.75 Q197.78,115.88 198.50,117.00 " fill="none" stroke="#a0a0a0" stroke-width="0.5"/>
<path d="M201.00,112.50 Q201.72,113.88 201.25,115.25 Q200.78,116.62 201.50,118.00 " fill="none" stroke="#a0a0a0" stroke-width="0.5"/>
<path d="M204.00,112.50 Q204.72,113.38 204.25,114.25 Q203.78,115.12 204.50,116.00 " fill="none" stroke="#a0a0a0" stroke-width="0.5"/>
<path d="M210.00,112.50 Q213.07,112.71 214.33,112.92 Q215.60,113.12 218.67,113.33 Q221.73,113.54 223.00,113.75 Q224.27,113.96 227.33,114.17 Q230.40,114.38 231.67,114.58 Q232.93,114.79 236.00,115.00 " fill="none" stroke="#b0b0b0" stroke-width="0.5"/>
<path d="M210.00,115.80 Q213.00,116.01 214.20,116.22 Q215.40,116.42 218.40,116.63 Q221.40,116.84 222.60,117.05 Q223.80,117.26 226.80,117.47 Q229.80,117.67 231.00,117.88 Q232.20,118.09 235.20,118.30 " fill="none" stroke="#b0b0b0" stroke-width="0.5"/>
<path d="M210.00,119.10 Q212.93,119.31 214.07,119.52 Q215.20,119.72 218.13,119.93 Q221.07,120.14 222.20,120.35 Q223.33,120.56 226.27,120.77 Q229.20,120.97 230.33,121.18 Q231.47,121.39 234.40,121.60 " fill="none" stroke="#b0b0b0" stroke-width="0.5"/>
<path d="M210.00,122.40 Q212.87,122.61 213.93,122.82 Q215.00,123.03 217.87,123.23 Q220.73,123.44 221.80,123.65 Q222.87,123.86 225.73,124.07 Q228.60,124.28 229.67,124.48 Q230.73,124.69 233.60,124.90 " fill="none" stroke="#b0b0b0" stroke-width="0.5"/>
<path d="M210.00,125.70 Q212.80,125.91 213.80,126.12 Q214.80,126.33 217.60,126.53 Q220.40,126.74 221.40,126.95 Q222.40,127.16 225.20,127.37 Q228.00,127.57 229.00,127.78 Q230.00,127.99 232.80,128.20 " fill="none" stroke="#b0b0b0" stroke-width="0.5"/>
<path d="M210.00,129.00 Q212.73,129.21 213.67,129.42 Q214.60,129.62 217.33,129.83 Q220.07,130.04 221.00,130.25 Q221.93,130.46 224.67,130.67 Q227.40,130.88 228.33,131.08 Q229.27,131.29 232.00,131.50 " fill="none" stroke="#b0b0b0" stroke-width="0.5"/>
<path d="M210.00,132.30 Q212.67,132.51 213.53,132.72 Q214.40,132.93 217.07,133.13 Q219.73,133.34 220.60,133.55 Q221.47,133.76 224.13,133.97 Q226.80,134.18 227.67,134.38 Q228.53,134.59 231.20,134.80 " fill="none" stroke="#b0b0b0" stroke-width="0.5"/>
<path d="M206,151 C209,144 212,138 216,135 C220,133 224,134 227,136" fill="none" stroke="#999" stroke-width="0.6"/>
<path d="M203,151 C207,145 210,140 213,137" fill="none" stroke="#aaa" stroke-width="0.5"/>
<path d="M208,111.5 C211,118 213,124 216,128 C219,131 222,129 225,126 C228,123 233,121 238,124 C243,128 245,136 244,151" fill="none" stroke="#8e8e8e" stroke-width="0.6"/>
<ellipse cx="233" cy="139.2" rx="7.6" ry="9.2" fill="none" stroke="#9a9a9a" stroke-width="2.6"/>
<ellipse cx="233" cy="139.2" rx="9.0" ry="10.8" fill="none" stroke="#8c8c8c" stroke-width="0.6"/>
<ellipse cx="233" cy="139.2" rx="6.4" ry="8.0" fill="none" stroke="#7a7a7a" stroke-width="0.6"/>
<ellipse cx="233" cy="139.2" rx="4.2" ry="5.8" fill="none" stroke="#747474" stroke-width="0.6"/>
<ellipse cx="233" cy="139.2" rx="2.4" ry="3.6" fill="none" stroke="#6a6a6a" stroke-width="0.6"/>
<ellipse cx="233" cy="139.2" rx="1.0" ry="1.6" fill="none" stroke="#666" stroke-width="0.6"/>
<path d="M183,95.6 C194,94.8 210,95.2 225,96 C236,96.6 241.4,98 242.4,101.4 C243.2,104.8 241.2,107.8 236,108.4 C226,108.9 214,109.4 204,110.4 C195,111.4 188,111.8 183,111.6 Z" fill="#b0b0b0" stroke="#5a5a5a" stroke-width="0.9"/>
<ellipse cx="188.2" cy="103.4" rx="5.4" ry="7.0" fill="#c4c4c4" stroke="#999" stroke-width="0.6"/>
<path d="M190.5,99.4 C200,97.2 222,96.8 236,98.5 C241,99.4 242.2,102.6 240.7,105 C239,107 233,107.3 226,107.4 C215,107.5 204,108.4 196,108.9 C192,109.1 190,107.6 189.6,104.6 Z" fill="#8a8a8a" stroke="#141414" stroke-width="1.6"/>
<path d="M193.5,104.6 L211.5,101.2 L214.5,102.2 L196,106.4 Z" fill="#f2f2f2" stroke="none" stroke-width="0"/>
<path d="M215,102.5 C222,101.9 230,101.9 236,102.5 C230,103.5 222,103.7 215,103.5 Z" fill="#c8c8c8" stroke="none" stroke-width="0"/>
<path d="M181.8,92.8 V152.8 H242.6" fill="none" stroke="#0a0a0a" stroke-width="2.6"/>
</g>
<rect x="216.2" y="11.1" width="34.2" height="19.7" fill="none" stroke="#8a8a8a" stroke-width="0.8"/>
<rect x="215.7" y="91.6" width="33.8" height="19.9" fill="none" stroke="#8a8a8a" stroke-width="0.8"/>
<text x="213.46" y="44.65" font-size="10.71" class="r" textLength="16.49" lengthAdjust="spacingAndGlyphs">7.9</text>
<text x="230.54" y="44.65" font-size="11.2" class="r" textLength="9.41" lengthAdjust="spacingAndGlyphs">&#177;</text>
<text x="241.48" y="44.65" font-size="10.71" class="r" textLength="15.72" lengthAdjust="spacingAndGlyphs">2.3</text>
<text x="260.04" y="42.35" font-size="11.77" class="r" textLength="13.9" lengthAdjust="spacingAndGlyphs">B6</text>
<text x="207.37" y="129.85" font-size="11.0" class="r" textLength="22.48" lengthAdjust="spacingAndGlyphs">23.4</text>
<text x="230.21" y="129.85" font-size="11.5" class="r" textLength="9.86" lengthAdjust="spacingAndGlyphs">&#177;</text>
<text x="240.25" y="129.85" font-size="11.0" class="r" textLength="17.3" lengthAdjust="spacingAndGlyphs">5.8</text>
<text x="260.66" y="122.65" font-size="10.61" class="r" textLength="12.91" lengthAdjust="spacingAndGlyphs">TC</text>
<text x="-0.86" y="186.95" font-size="17.44" font-weight="bold" class="p" textLength="12.89" lengthAdjust="spacingAndGlyphs">C</text>
<line x1="70.0" y1="206.25" x2="70.0" y2="314.85" stroke="#000" stroke-width="1.7"/>
<line x1="67.5" y1="207.0" x2="70.0" y2="207.0" stroke="#000" stroke-width="1.4"/>
<line x1="67.5" y1="242.70000000000002" x2="70.0" y2="242.70000000000002" stroke="#000" stroke-width="1.4"/>
<line x1="67.5" y1="278.40000000000003" x2="70.0" y2="278.40000000000003" stroke="#000" stroke-width="1.4"/>
<line x1="67.5" y1="314.1" x2="70.0" y2="314.1" stroke="#000" stroke-width="1.4"/>
<line x1="69.15" y1="314.1" x2="208.9" y2="314.1" stroke="#000" stroke-width="1.7"/>
<text x="47.06" y="210.2" font-size="9.29" font-weight="bold" class="b" textLength="16.77" lengthAdjust="spacingAndGlyphs">0.75</text>
<text x="47.05" y="245.8" font-size="9.29" font-weight="bold" class="b" textLength="16.86" lengthAdjust="spacingAndGlyphs">0.50</text>
<text x="47.06" y="281.4" font-size="9.29" font-weight="bold" class="b" textLength="16.77" lengthAdjust="spacingAndGlyphs">0.25</text>
<text x="47.05" y="317.0" font-size="9.29" font-weight="bold" class="b" textLength="16.86" lengthAdjust="spacingAndGlyphs">0.00</text>
<text x="98.22" y="332.35" font-size="11.34" class="r" textLength="14.23" lengthAdjust="spacingAndGlyphs">B6</text>
<text x="167.54" y="332.35" font-size="11.34" class="r" textLength="14.07" lengthAdjust="spacingAndGlyphs">TC</text>
<text transform="translate(34.25 304.72) rotate(-90)" font-size="10.61" class="r" textLength="88.58" lengthAdjust="spacingAndGlyphs">CD45.2<tspan font-size="0.6em" dy="-0.42em">+</tspan><tspan dy="0.252em"> LSK (%)</tspan></text>
<text x="121.75" y="201.50" font-size="15.4" font-weight="bold" class="p">*</text>
<text x="130.00" y="201.50" font-size="15.4" font-weight="bold" class="p">*</text>
<text x="138.25" y="201.50" font-size="15.4" font-weight="bold" class="p">*</text>
<line x1="105.4" y1="200.65" x2="161.2" y2="200.65" stroke="#000" stroke-width="1.9"/>
<line x1="82.9" y1="304.6" x2="129" y2="304.6" stroke="#000" stroke-width="1.5"/>
<circle cx="97.9" cy="296.9" r="2.25" fill="#fff" stroke="#000" stroke-width="1.4"/>
<circle cx="93" cy="302.3" r="2.25" fill="#fff" stroke="#000" stroke-width="1.4"/>
<circle cx="97.9" cy="303.5" r="2.25" fill="#fff" stroke="#000" stroke-width="1.4"/>
<circle cx="97.9" cy="305.8" r="2.25" fill="#fff" stroke="#000" stroke-width="1.4"/>
<circle cx="106" cy="304.6" r="2.25" fill="#fff" stroke="#000" stroke-width="1.4"/>
<circle cx="113.5" cy="302.3" r="2.25" fill="#fff" stroke="#000" stroke-width="1.4"/>
<circle cx="117.8" cy="302.1" r="2.25" fill="#fff" stroke="#000" stroke-width="1.4"/>
<circle cx="106" cy="312.7" r="2.25" fill="#fff" stroke="#000" stroke-width="1.4"/>
<circle cx="113.5" cy="312.7" r="2.25" fill="#fff" stroke="#000" stroke-width="1.4"/>
<circle cx="97.9" cy="305.2" r="2.2" fill="#333"/>
<circle cx="174.5" cy="216.1" r="2.85" fill="#000"/>
<circle cx="174.5" cy="252.4" r="2.85" fill="#000"/>
<circle cx="167.6" cy="268.5" r="2.85" fill="#000"/>
<circle cx="174.5" cy="270.1" r="2.85" fill="#000"/>
<circle cx="167.6" cy="275.2" r="2.85" fill="#000"/>
<circle cx="181.4" cy="279.8" r="2.85" fill="#000"/>
<circle cx="174.5" cy="282.3" r="2.85" fill="#000"/>
<circle cx="167.6" cy="292.6" r="2.85" fill="#000"/>
<circle cx="174.5" cy="293.6" r="2.85" fill="#000"/>
<circle cx="186" cy="298.2" r="2.85" fill="#000"/>
<circle cx="167.6" cy="303" r="2.85" fill="#000"/>
<circle cx="174.5" cy="304.1" r="2.85" fill="#000"/>
<circle cx="182.5" cy="303" r="2.85" fill="#000"/>
<line x1="152" y1="279.8" x2="197.5" y2="279.8" stroke="#000" stroke-width="1.5"/>
<text x="272.24" y="187.25" font-size="17.44" font-weight="bold" class="p" textLength="13.5" lengthAdjust="spacingAndGlyphs">D</text>
<line x1="310.6" y1="200.45" x2="310.6" y2="307.75" stroke="#000" stroke-width="1.7"/>
<line x1="308.1" y1="201.2" x2="310.6" y2="201.2" stroke="#000" stroke-width="1.4"/>
<line x1="308.1" y1="222.36" x2="310.6" y2="222.36" stroke="#000" stroke-width="1.4"/>
<line x1="308.1" y1="243.51999999999998" x2="310.6" y2="243.51999999999998" stroke="#000" stroke-width="1.4"/>
<line x1="308.1" y1="264.68" x2="310.6" y2="264.68" stroke="#000" stroke-width="1.4"/>
<line x1="308.1" y1="285.84" x2="310.6" y2="285.84" stroke="#000" stroke-width="1.4"/>
<line x1="309.75" y1="307.0" x2="465.6" y2="307.0" stroke="#000" stroke-width="1.7"/>
<text x="291.92" y="206.1" font-size="8.29" font-weight="bold" class="b" textLength="13.31" lengthAdjust="spacingAndGlyphs">125</text>
<text x="291.92" y="227.4" font-size="8.29" font-weight="bold" class="b" textLength="13.39" lengthAdjust="spacingAndGlyphs">100</text>
<text x="296.07" y="249.1" font-size="8.29" font-weight="bold" class="b" textLength="9.2" lengthAdjust="spacingAndGlyphs">75</text>
<text x="296.15" y="269.6" font-size="8.29" font-weight="bold" class="b" textLength="9.2" lengthAdjust="spacingAndGlyphs">50</text>
<text x="296.15" y="290.7" font-size="8.29" font-weight="bold" class="b" textLength="9.11" lengthAdjust="spacingAndGlyphs">25</text>
<text x="300.02" y="311.6" font-size="8.29" font-weight="bold" class="b" textLength="5.33" lengthAdjust="spacingAndGlyphs">0</text>
<text transform="translate(286.05 273.0) rotate(-90)" font-size="12.21" class="r" textLength="34.68" lengthAdjust="spacingAndGlyphs">% PBL</text>
<rect x="321.5" y="224.2" width="11.60" height="78.30" fill="#a3a3a3" stroke="#000" stroke-width="1.75"/>
<rect x="321.5" y="302.5" width="11.60" height="4.50" fill="#fff" stroke="#000" stroke-width="1.75"/>
<rect x="338.9" y="224.9" width="11.60" height="79.30" fill="#a3a3a3" stroke="#000" stroke-width="1.75"/>
<rect x="338.9" y="304.2" width="11.60" height="2.80" fill="#fff" stroke="#000" stroke-width="1.75"/>
<rect x="356.1" y="224.5" width="11.70" height="75.00" fill="#a3a3a3" stroke="#000" stroke-width="1.75"/>
<rect x="356.1" y="299.5" width="11.70" height="7.50" fill="#fff" stroke="#000" stroke-width="1.75"/>
<rect x="373.5" y="224.2" width="12.00" height="76.20" fill="#a3a3a3" stroke="#000" stroke-width="1.75"/>
<rect x="373.5" y="300.4" width="12.00" height="6.60" fill="#fff" stroke="#000" stroke-width="1.75"/>
<rect x="391.5" y="225.0" width="11.20" height="54.80" fill="#a3a3a3" stroke="#000" stroke-width="1.75"/>
<rect x="391.5" y="279.8" width="11.20" height="27.20" fill="#fff" stroke="#000" stroke-width="1.75"/>
<rect x="409.0" y="224.5" width="11.70" height="65.20" fill="#a3a3a3" stroke="#000" stroke-width="1.75"/>
<rect x="409.0" y="289.7" width="11.70" height="17.30" fill="#fff" stroke="#000" stroke-width="1.75"/>
<rect x="427.1" y="228.1" width="10.80" height="6.70" fill="#a3a3a3" stroke="#000" stroke-width="1.75"/>
<rect x="427.1" y="234.8" width="10.80" height="72.20" fill="#fff" stroke="#000" stroke-width="1.75"/>
<rect x="444.8" y="226.5" width="10.70" height="58.90" fill="#a3a3a3" stroke="#000" stroke-width="1.75"/>
<rect x="444.8" y="285.4" width="10.70" height="21.60" fill="#fff" stroke="#000" stroke-width="1.75"/>
<line x1="327.3" y1="222.6" x2="327.3" y2="224.2" stroke="#000" stroke-width="1.4"/>
<line x1="324.3" y1="222.6" x2="330.3" y2="222.6" stroke="#000" stroke-width="1.4"/>
<line x1="327.3" y1="224.2" x2="327.3" y2="225.6" stroke="#000" stroke-width="1.4"/>
<line x1="324.3" y1="225.6" x2="330.3" y2="225.6" stroke="#000" stroke-width="1.4"/>
<line x1="327.3" y1="302.5" x2="327.3" y2="304.4" stroke="#000" stroke-width="1.4"/>
<line x1="324.3" y1="304.4" x2="330.3" y2="304.4" stroke="#000" stroke-width="1.4"/>
<line x1="327.3" y1="307.0" x2="327.3" y2="310.4" stroke="#000" stroke-width="1.3"/>
<line x1="344.7" y1="223.4" x2="344.7" y2="224.9" stroke="#000" stroke-width="1.4"/>
<line x1="341.7" y1="223.4" x2="347.7" y2="223.4" stroke="#000" stroke-width="1.4"/>
<line x1="344.7" y1="224.9" x2="344.7" y2="226.0" stroke="#000" stroke-width="1.4"/>
<line x1="341.7" y1="226.0" x2="347.7" y2="226.0" stroke="#000" stroke-width="1.4"/>
<line x1="344.7" y1="304.2" x2="344.7" y2="305.2" stroke="#000" stroke-width="1.4"/>
<line x1="341.7" y1="305.2" x2="347.7" y2="305.2" stroke="#000" stroke-width="1.4"/>
<line x1="344.7" y1="307.0" x2="344.7" y2="310.4" stroke="#000" stroke-width="1.3"/>
<line x1="362" y1="221.1" x2="362" y2="224.5" stroke="#000" stroke-width="1.4"/>
<line x1="359.0" y1="221.1" x2="365.0" y2="221.1" stroke="#000" stroke-width="1.4"/>
<line x1="362" y1="224.5" x2="362" y2="227.7" stroke="#000" stroke-width="1.4"/>
<line x1="359.0" y1="227.7" x2="365.0" y2="227.7" stroke="#000" stroke-width="1.4"/>
<line x1="362" y1="299.5" x2="362" y2="302.1" stroke="#000" stroke-width="1.4"/>
<line x1="359.0" y1="302.1" x2="365.0" y2="302.1" stroke="#000" stroke-width="1.4"/>
<line x1="362" y1="307.0" x2="362" y2="310.4" stroke="#000" stroke-width="1.3"/>
<line x1="379.5" y1="218.5" x2="379.5" y2="224.2" stroke="#000" stroke-width="1.4"/>
<line x1="376.5" y1="218.5" x2="382.5" y2="218.5" stroke="#000" stroke-width="1.4"/>
<line x1="379.5" y1="224.2" x2="379.5" y2="228.5" stroke="#000" stroke-width="1.4"/>
<line x1="376.5" y1="228.5" x2="382.5" y2="228.5" stroke="#000" stroke-width="1.4"/>
<line x1="379.5" y1="300.4" x2="379.5" y2="302.5" stroke="#000" stroke-width="1.4"/>
<line x1="376.5" y1="302.5" x2="382.5" y2="302.5" stroke="#000" stroke-width="1.4"/>
<line x1="379.5" y1="307.0" x2="379.5" y2="310.4" stroke="#000" stroke-width="1.3"/>
<line x1="397.1" y1="207.7" x2="397.1" y2="225.0" stroke="#000" stroke-width="1.4"/>
<line x1="394.1" y1="207.7" x2="400.1" y2="207.7" stroke="#000" stroke-width="1.4"/>
<line x1="397.1" y1="225.0" x2="397.1" y2="241.2" stroke="#000" stroke-width="1.4"/>
<line x1="394.1" y1="241.2" x2="400.1" y2="241.2" stroke="#000" stroke-width="1.4"/>
<line x1="397.1" y1="279.8" x2="397.1" y2="296.6" stroke="#000" stroke-width="1.4"/>
<line x1="394.1" y1="296.6" x2="400.1" y2="296.6" stroke="#000" stroke-width="1.4"/>
<line x1="397.1" y1="307.0" x2="397.1" y2="310.4" stroke="#000" stroke-width="1.3"/>
<line x1="414.85" y1="213.5" x2="414.85" y2="224.5" stroke="#000" stroke-width="1.4"/>
<line x1="411.85" y1="213.5" x2="417.85" y2="213.5" stroke="#000" stroke-width="1.4"/>
<line x1="414.85" y1="224.5" x2="414.85" y2="233.8" stroke="#000" stroke-width="1.4"/>
<line x1="411.85" y1="233.8" x2="417.85" y2="233.8" stroke="#000" stroke-width="1.4"/>
<line x1="414.85" y1="289.7" x2="414.85" y2="298.9" stroke="#000" stroke-width="1.4"/>
<line x1="411.85" y1="298.9" x2="417.85" y2="298.9" stroke="#000" stroke-width="1.4"/>
<line x1="414.85" y1="307.0" x2="414.85" y2="310.4" stroke="#000" stroke-width="1.3"/>
<line x1="432.5" y1="219.2" x2="432.5" y2="228.1" stroke="#000" stroke-width="1.4"/>
<line x1="429.5" y1="219.2" x2="435.5" y2="219.2" stroke="#000" stroke-width="1.4"/>
<line x1="432.5" y1="234.8" x2="432.5" y2="249.9" stroke="#000" stroke-width="1.4"/>
<line x1="429.5" y1="249.9" x2="435.5" y2="249.9" stroke="#000" stroke-width="1.4"/>
<line x1="432.5" y1="307.0" x2="432.5" y2="310.4" stroke="#000" stroke-width="1.3"/>
<line x1="450.15" y1="214.9" x2="450.15" y2="226.5" stroke="#000" stroke-width="1.4"/>
<line x1="447.15" y1="214.9" x2="453.15" y2="214.9" stroke="#000" stroke-width="1.4"/>
<line x1="450.15" y1="226.5" x2="450.15" y2="248.2" stroke="#000" stroke-width="1.4"/>
<line x1="447.15" y1="248.2" x2="453.15" y2="248.2" stroke="#000" stroke-width="1.4"/>
<line x1="450.15" y1="285.4" x2="450.15" y2="301.8" stroke="#000" stroke-width="1.4"/>
<line x1="447.15" y1="301.8" x2="453.15" y2="301.8" stroke="#000" stroke-width="1.4"/>
<line x1="450.15" y1="307.0" x2="450.15" y2="310.4" stroke="#000" stroke-width="1.3"/>
<text x="320.54" y="321.45" font-size="9.3" class="r" textLength="12.34" lengthAdjust="spacingAndGlyphs">B6</text>
<text x="338.97" y="321.45" font-size="9.3" class="r" textLength="11.97" lengthAdjust="spacingAndGlyphs">TC</text>
<text x="356.12" y="321.45" font-size="9.3" class="r" textLength="11.12" lengthAdjust="spacingAndGlyphs">B6</text>
<text x="373.77" y="321.45" font-size="9.3" class="r" textLength="11.97" lengthAdjust="spacingAndGlyphs">TC</text>
<text x="391.42" y="321.45" font-size="9.3" class="r" textLength="11.12" lengthAdjust="spacingAndGlyphs">B6</text>
<text x="407.85" y="321.45" font-size="9.3" class="r" textLength="13.44" lengthAdjust="spacingAndGlyphs">TC</text>
<text x="426.28" y="321.45" font-size="9.3" class="r" textLength="11.79" lengthAdjust="spacingAndGlyphs">B6</text>
<text x="444.58" y="321.45" font-size="9.3" class="r" textLength="11.55" lengthAdjust="spacingAndGlyphs">TC</text>
<text x="331.29" y="338.55" font-size="10.29" class="r" textLength="10.99" lengthAdjust="spacingAndGlyphs">1<tspan font-size="0.65em" dy="-0.45em">o</tspan></text>
<text x="366.25" y="338.55" font-size="10.29" class="r" textLength="10.93" lengthAdjust="spacingAndGlyphs">2<tspan font-size="0.65em" dy="-0.45em">o</tspan></text>
<text x="400.66" y="338.55" font-size="10.29" class="r" textLength="11.34" lengthAdjust="spacingAndGlyphs">3<tspan font-size="0.65em" dy="-0.45em">o</tspan></text>
<text x="438.11" y="338.55" font-size="10.29" class="r" textLength="11.08" lengthAdjust="spacingAndGlyphs">4<tspan font-size="0.65em" dy="-0.45em">o</tspan></text>
<line x1="322.4" y1="325.6" x2="346.6" y2="325.6" stroke="#000" stroke-width="2.0"/>
<line x1="359.4" y1="325.6" x2="382.9" y2="325.6" stroke="#000" stroke-width="2.0"/>
<line x1="395.2" y1="325.6" x2="419.4" y2="325.6" stroke="#000" stroke-width="2.0"/>
<line x1="430.2" y1="325.6" x2="454.4" y2="325.6" stroke="#000" stroke-width="2.0"/>
<rect x="422.8" y="173.4" width="12.6" height="9.4" fill="#fff" stroke="#000" stroke-width="1.6"/>
<rect x="422.8" y="188.6" width="12.6" height="8.8" fill="#a3a3a3" stroke="#000" stroke-width="1.6"/>
<text x="440.05" y="181.95" font-size="9.88" class="r" textLength="33.91" lengthAdjust="spacingAndGlyphs">CD45.1</text>
<text x="440.04" y="196.15" font-size="9.59" class="r" textLength="34.42" lengthAdjust="spacingAndGlyphs">CD45.2</text>
<text x="-1.69" y="353.25" font-size="18.31" font-weight="bold" class="p" textLength="11.79" lengthAdjust="spacingAndGlyphs">E</text>
<line x1="55.3" y1="357.55" x2="55.3" y2="485.35" stroke="#000" stroke-width="1.7"/>
<line x1="52.0" y1="358.3" x2="55.3" y2="358.3" stroke="#000" stroke-width="1.4"/>
<line x1="52.0" y1="389.875" x2="55.3" y2="389.875" stroke="#000" stroke-width="1.4"/>
<line x1="52.0" y1="421.45000000000005" x2="55.3" y2="421.45000000000005" stroke="#000" stroke-width="1.4"/>
<line x1="52.0" y1="453.02500000000003" x2="55.3" y2="453.02500000000003" stroke="#000" stroke-width="1.4"/>
<line x1="54.449999999999996" y1="484.6" x2="244.0" y2="484.6" stroke="#000" stroke-width="1.7"/>
<line x1="55.3" y1="484.6" x2="55.3" y2="488.0" stroke="#000" stroke-width="1.3"/>
<line x1="102.475" y1="484.6" x2="102.475" y2="488.0" stroke="#000" stroke-width="1.3"/>
<line x1="149.64999999999998" y1="484.6" x2="149.64999999999998" y2="488.0" stroke="#000" stroke-width="1.3"/>
<line x1="196.825" y1="484.6" x2="196.825" y2="488.0" stroke="#000" stroke-width="1.3"/>
<line x1="244.0" y1="484.6" x2="244.0" y2="488.0" stroke="#000" stroke-width="1.3"/>
<text x="30.27" y="362.0" font-size="10.57" font-weight="bold" class="b" letter-spacing="0.501">100</text>
<text x="37.08" y="393.6" font-size="10.57" font-weight="bold" class="b" letter-spacing="0.006">75</text>
<text x="37.18" y="425.2" font-size="10.57" font-weight="bold" class="b" letter-spacing="0.006">50</text>
<text x="37.18" y="456.8" font-size="10.57" font-weight="bold" class="b" letter-spacing="-0.1">25</text>
<text x="43.28" y="488.4" font-size="10.57" font-weight="bold" class="b" letter-spacing="-0.274">0</text>
<text x="52.55" y="499.65" font-size="10.07" class="r" letter-spacing="-0.134">0</text>
<text x="92.64" y="499.65" font-size="10.07" class="r" letter-spacing="0.845">100</text>
<text x="140.15" y="499.65" font-size="10.07" class="r" letter-spacing="0.694">200</text>
<text x="187.75" y="499.65" font-size="10.07" class="r" letter-spacing="0.643">300</text>
<text x="235.15" y="499.65" font-size="10.07" class="r" letter-spacing="0.543">400</text>
<text x="94.66" y="518.55" font-size="11.92" class="r" textLength="101.0" lengthAdjust="spacingAndGlyphs">Days after 4<tspan font-size="0.62em" dy="-0.45em">o</tspan><tspan dy="0.279em"> BMT</tspan></text>
<text transform="translate(25.25 452.56) rotate(-90)" font-size="12.14" class="r" textLength="58.57" lengthAdjust="spacingAndGlyphs">% survival</text>
<text x="224.74" y="363.05" font-size="10.47" class="r" textLength="13.9" lengthAdjust="spacingAndGlyphs">B6</text>
<text x="225.43" y="378.65" font-size="10.61" class="r" textLength="14.59" lengthAdjust="spacingAndGlyphs">TC</text>
<path d="M51.5,358.3 H59.5 V388.4 H79.0 V393.3 H132.0 V398.6 H155.2 V408.2 H197.4 V418.5 H214 V423 H228" fill="none" stroke="#000" stroke-width="1.8"/>
<path d="M57.5,358.3 V427.5 H99 V446.5 H103 V465 H114.6 V477.7 H190.3 V484.6" fill="none" stroke="#000" stroke-width="1.8"/>
<circle cx="59.3" cy="368.3" r="3.35" fill="#000"/>
<circle cx="59.7" cy="378.5" r="3.35" fill="#000"/>
<circle cx="59.7" cy="387.5" r="3.35" fill="#000"/>
<circle cx="78.3" cy="393.7" r="3.35" fill="#000"/>
<circle cx="131.5" cy="399" r="3.35" fill="#000"/>
<circle cx="155" cy="408.8" r="3.35" fill="#000"/>
<circle cx="196.4" cy="413.7" r="3.35" fill="#000"/>
<circle cx="199.3" cy="416.4" r="3.35" fill="#000"/>
<circle cx="201.2" cy="419.2" r="3.35" fill="#000"/>
<circle cx="213.7" cy="424" r="3.35" fill="#000"/>
<circle cx="227.9" cy="424" r="3.35" fill="#000"/>
<circle cx="57.4" cy="364.6" r="2.95" fill="#fff" stroke="#000" stroke-width="1.7"/>
<circle cx="58.4" cy="395.8" r="2.95" fill="#fff" stroke="#000" stroke-width="1.7"/>
<circle cx="59.6" cy="408.6" r="2.95" fill="#fff" stroke="#000" stroke-width="1.7"/>
<circle cx="59.6" cy="427.6" r="2.95" fill="#fff" stroke="#000" stroke-width="1.7"/>
<circle cx="98.5" cy="446.5" r="2.95" fill="#fff" stroke="#000" stroke-width="1.7"/>
<circle cx="103" cy="459.2" r="2.95" fill="#fff" stroke="#000" stroke-width="1.7"/>
<circle cx="106.5" cy="465.7" r="2.95" fill="#fff" stroke="#000" stroke-width="1.7"/>
<circle cx="114.2" cy="478.2" r="2.95" fill="#fff" stroke="#000" stroke-width="1.7"/>
<circle cx="189.6" cy="484.6" r="2.95" fill="#fff" stroke="#000" stroke-width="1.7"/>
<circle cx="214.9" cy="359.5" r="2.6" fill="#fff" stroke="#000" stroke-width="1.4"/>
<circle cx="215.1" cy="375.1" r="3.4" fill="#000"/>
</svg>
</body></html>
